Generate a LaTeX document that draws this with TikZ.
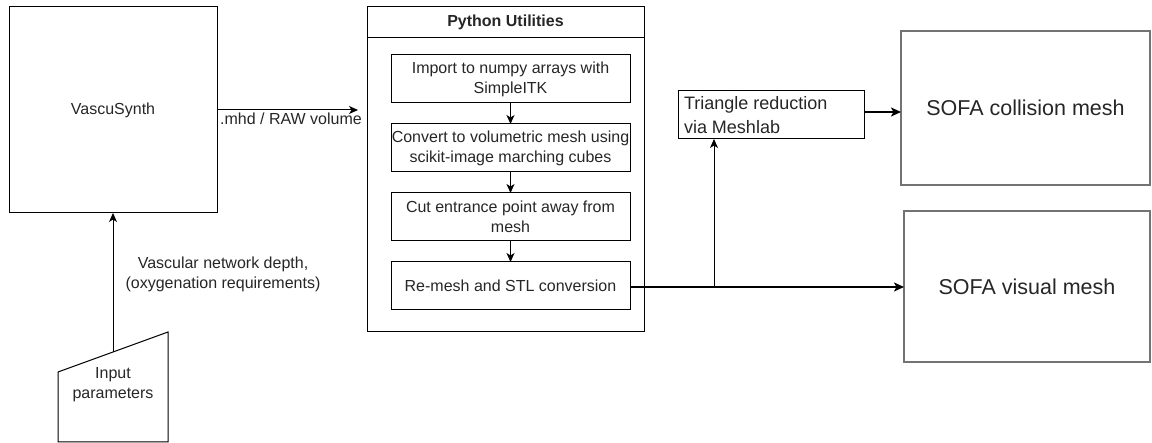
\documentclass[tikz,border=0pt]{standalone}
\usepackage{fontspec}
\setmainfont{Liberation Sans}
\usetikzlibrary{arrows.meta,calc}
\begin{document}
\begin{tikzpicture}[x=1pt,y=-1pt,
  every node/.style={inner sep=0pt,outer sep=0pt,font=\fontsize{16}{20}\selectfont,text=black!85},
  thinbox/.style={draw=black,line width=1pt},
  sofabox/.style={draw=black!55,line width=1.6pt,font=\fontsize{21.5}{25}\selectfont},
  thinarrow/.style={draw=black,line width=1pt,-{Stealth[length=9pt,width=8pt,inset=2.5pt]}},
  thickarrow/.style={draw=black,line width=2pt,-{Stealth[length=10pt,width=9pt,inset=2.5pt]}}
]
\useasboundingbox (0,0) rectangle (1152,443);
% VascuSynth
\node[thinbox,minimum width=208pt,minimum height=206pt] (vs) at (113,110) {VascuSynth};
% Input parameters (manual input)
\draw[thinbox] (58,372) -- (168,332) -- (168,442) -- (58,442) -- cycle;
\node[align=center] (inp) at (113,385) {Input\\parameters};
\coordinate (inptop) at (113,352);
\draw[thinarrow] (inptop) -- (vs.south);
\node[align=center] (lblvas) at (223,274) {Vascular network depth,\\(oxygenation requirements)};
% Python utilities container
\node[thinbox,minimum width=277pt,minimum height=325pt] (py) at (505.5,169.5) {};
\coordinate (hdrL) at (367,38);
\coordinate (hdrR) at (644,38);
\draw[line width=1pt] (hdrL) -- (hdrR);
\node[font=\fontsize{16}{20}\selectfont\bfseries] (pytitle) at (505.5,22.5) {Python Utilities};
\tikzset{stepbox/.style={thinbox,minimum width=239pt,minimum height=48pt,align=center}}
\node[stepbox] (b1) at (510.5,79) {Import to numpy arrays with\\SimpleITK};
\node[stepbox] (b2) at (510.5,148) {Convert to volumetric mesh using\\scikit-image marching cubes};
\node[stepbox] (b3) at (510.5,217) {Cut entrance point away from\\mesh};
\node[stepbox] (b4) at (510.5,286) {Re-mesh and STL conversion};
\draw[thinarrow] (b1) -- (b2);
\draw[thinarrow] (b2) -- (b3);
\draw[thinarrow] (b3) -- (b4);
% VascuSynth -> Python
\coordinate (mhdend) at (358,110);
\draw[thinarrow] (vs.east) -- (mhdend);
\node[anchor=north] (lblmhd) at (291,113) {.mhd / RAW volume};
% right side
\node[thinbox,minimum width=186pt,minimum height=48pt] (tri) at (771,115) {};
\node[anchor=west,align=left,font=\fontsize{18}{23.5}\selectfont] (tritxt) at (684,115) {Triangle reduction\\via Meshlab};
\node[sofabox,minimum width=249pt,minimum height=154pt] (sc) at (1025.5,108) {SOFA collision mesh};
\node[sofabox,minimum width=246pt,minimum height=151pt] (sv) at (1027,286.5) {SOFA visual mesh};
\coordinate (br) at (714,287);
\draw[thickarrow] (b4.east |- br) -- (sv.west |- br);
\draw[line width=1pt,-{Stealth[length=9pt,width=8pt,inset=2.5pt]}] (br) -- (tri.south -| br);
\draw[thickarrow] (tri.east |- 0,112) -- (sc.west |- 0,112);
\end{tikzpicture}
\end{document}
